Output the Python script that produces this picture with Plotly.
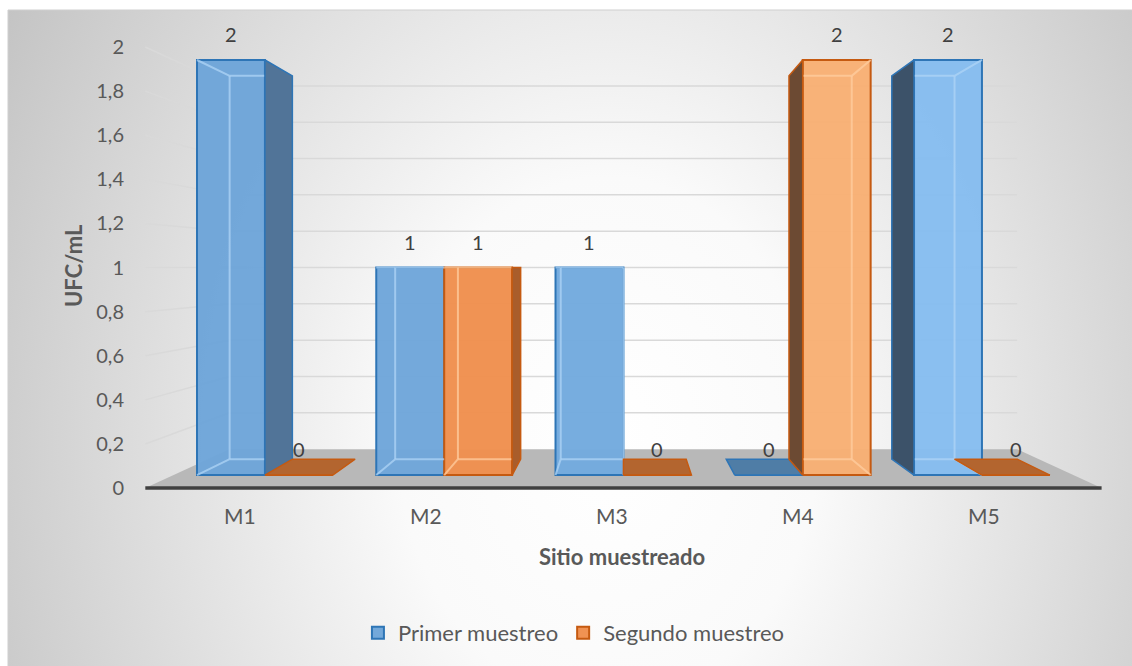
import base64
import plotly.graph_objects as go

# ---- data -------------------------------------------------------------
categories = ["M1", "M2", "M3", "M4", "M5"]
primer_muestreo = [2, 1, 1, 0, 2]
segundo_muestreo = [0, 1, 0, 2, 0]
y_ticks = [0, 0.2, 0.4, 0.6, 0.8, 1, 1.2, 1.4, 1.6, 1.8, 2]
y_tick_labels = [f"{t:g}".replace(".", ",") for t in y_ticks]

# ---- perspective model ------------------------------------------------
# logical units: category index on x, UFC/mL on y; k = depth scale factor
VP = (2.0, 1.0)        # vanishing point
K_FRONT = 1.0          # floor front edge / value-axis plane
K_BAR = 0.941          # bar front faces
K_BAR_BACK = 0.869     # bar back faces
K_WALL = 0.8235        # back wall
BAR_W = 0.379
FLOOR_C = (-0.51, 4.51)

X_RANGE = [-1.478, 4.837]
Y_RANGE = [-0.92, 2.289]
Y_TICK_RANGE = [VP[1] + (r - VP[1]) * K_BAR / K_FRONT for r in Y_RANGE]
X_LABEL_RANGE = [-1.29, 4.796]


def proj(c, v, k):
    s = k / K_BAR
    return VP[0] + (c - VP[0]) * s, VP[1] + (v - VP[1]) * s


def path(points):
    return "M " + " L ".join(f"{x:.5f},{y:.5f}" for x, y in points) + " Z"


def clip_x(p, q, lo, hi):
    (x0, y0), (x1, y1) = p, q
    if abs(x1 - x0) < 1e-12:
        return (p, q) if lo - 1e-9 <= x0 <= hi + 1e-9 else None
    t0, t1 = (lo - x0) / (x1 - x0), (hi - x0) / (x1 - x0)
    ta, tb = max(0.0, min(t0, t1)), min(1.0, max(t0, t1))
    if tb - ta < 1e-6:
        return None
    return ((x0 + (x1 - x0) * ta, y0 + (y1 - y0) * ta),
            (x0 + (x1 - x0) * tb, y0 + (y1 - y0) * tb))


series = [
    dict(name="Primer muestreo", values=primer_muestreo, offset=-BAR_W,
         line="#2e75b6",
         front=["rgba(110,165,217,0.97)", "rgba(111,166,218,0.97)", "rgba(115,170,222,0.97)",
                "rgba(124,180,232,0.97)", "rgba(134,189,240,0.97)"],
         right="#517498", left="#3c5269", top="#4f7da6",
         inner="rgba(175,212,245,0.75)"),
    dict(name="Segundo muestreo", values=segundo_muestreo, offset=0.0,
         line="#c55a11",
         front=["rgba(239,142,77,0.97)", "rgba(239,143,78,0.97)", "rgba(242,154,90,0.97)",
                "rgba(248,176,116,0.97)", "rgba(250,183,122,0.97)"],
         right="#a95d2b", left="#6c4a33", top="#b3652f",
         inner="rgba(255,205,160,0.75)"),
]

fig = go.Figure()

# ---- floor, walls and gridlines --------------------------------------
shapes = []
floor = [proj(FLOOR_C[0], 0, K_FRONT), proj(FLOOR_C[1], 0, K_FRONT),
         proj(FLOOR_C[1], 0, K_WALL), proj(FLOOR_C[0], 0, K_WALL)]
for t in y_ticks[1:]:
    a = proj(FLOOR_C[0], t, K_FRONT)
    b = proj(FLOOR_C[0], t, K_WALL)
    c = proj(FLOOR_C[1], t, K_WALL)
    for p, q in ((a, b), (b, c)):
        shapes.append(dict(type="line", xref="x", yref="y", x0=p[0], y0=p[1], x1=q[0], y1=q[1],
                           line=dict(color="#d9d9d9", width=1.5), layer="below"))
shapes.append(dict(type="path", xref="x", yref="y", path=path(floor),
                   fillcolor="#b8b8b8", line=dict(width=0), layer="below"))
fl, fr = proj(FLOOR_C[0], 0, K_FRONT), proj(FLOOR_C[1], 0, K_FRONT)
shapes.append(dict(type="line", xref="x", yref="y", x0=fl[0], y0=fl[1], x1=fr[0], y1=fr[1],
                   line=dict(color="#404040", width=3.5), layer="below"))
# chart-area border
shapes.append(dict(type="rect", xref="paper", yref="paper", x0=8 / 1132, y0=-0.01, x1=1.01,
                   y1=1 - 10 / 666, line=dict(color="#cfcfcf", width=1), layer="below"))

# ---- bar front faces --------------------------------------------------
for s in series:
    fig.add_trace(go.Bar(
        x=list(range(len(categories))), y=s["values"], base=0,
        offset=s["offset"], width=BAR_W, name=s["name"],
        marker=dict(color=s["front"], line=dict(color=s["line"], width=2)),
        hoverinfo="skip",
    ))

# ---- hidden back edges seen through the front faces --------------------
for s in series:
    xs, ys = [], []
    for i, v in enumerate(s["values"]):
        if v == 0:
            continue
        c0 = i + s["offset"]
        c1 = c0 + BAR_W
        corners = [(c0, 0), (c1, 0), (c1, v), (c0, v)]
        back = [proj(c, h, K_BAR_BACK) for c, h in corners]
        front = [proj(c, h, K_BAR) for c, h in corners]
        edges = [(back[j], back[(j + 1) % 4]) for j in range(4)] + \
                [(front[j], back[j]) for j in range(4)]
        for p, q in edges:
            seg = clip_x(p, q, c0, c1)
            if seg:
                xs += [seg[0][0], seg[1][0], None]
                ys += [seg[0][1], seg[1][1], None]
    fig.add_trace(go.Scatter(x=xs, y=ys, mode="lines", line=dict(color=s["inner"], width=2),
                             showlegend=False, hoverinfo="skip"))

# ---- side faces and top faces -----------------------------------------
for si, s in enumerate(series):
    other = series[1 - si]["values"]
    for i, v in enumerate(s["values"]):
        c0 = i + s["offset"]
        c1 = c0 + BAR_W
        faces = []
        if v < VP[1]:
            # top face seen from above (flat slab for zero values)
            faces.append(([proj(c0, v, K_BAR), proj(c1, v, K_BAR),
                           proj(c1, v, K_BAR_BACK), proj(c0, v, K_BAR_BACK)], s["top"]))
        if c1 < VP[0] - 1e-9:
            low = other[i] if si == 0 else 0
            if v > low:
                faces.append(([proj(c1, low, K_BAR), proj(c1, v, K_BAR),
                               proj(c1, v, K_BAR_BACK), proj(c1, low, K_BAR_BACK)], s["right"]))
        if c0 > VP[0] + 1e-9:
            low = other[i] if si == 1 else 0
            if v > low:
                faces.append(([proj(c0, low, K_BAR), proj(c0, v, K_BAR),
                               proj(c0, v, K_BAR_BACK), proj(c0, low, K_BAR_BACK)], s["left"]))
        for pts, col in faces:
            fig.add_trace(go.Scatter(
                x=[p[0] for p in pts] + [pts[0][0]], y=[p[1] for p in pts] + [pts[0][1]],
                mode="lines", fill="toself", fillcolor=col,
                line=dict(color=s["line"], width=1.5),
                showlegend=False, hoverinfo="skip"))

# ---- value labels ------------------------------------------------------
annotations = []
for s in series:
    for i, v in enumerate(s["values"]):
        annotations.append(dict(x=i + s["offset"] + BAR_W / 2, y=v, xref="x", yref="y",
                                text=f"{v:g}", showarrow=False, yshift=26,
                                xanchor="center", yanchor="middle",
                                font=dict(size=20, color="#404040")))

annotations.append(dict(x=622 / 1132, y=(666 - 556) / 666, xref="paper", yref="paper",
                        xanchor="center", yanchor="middle",
                        text="<b>Sitio muestreado</b>", showarrow=False,
                        font=dict(size=22, color="#595959")))
annotations.append(dict(x=73 / 1132, y=(666 - 266) / 666, xref="paper", yref="paper",
                        xanchor="center", yanchor="middle",
                        text="<b>UFC/mL</b>", showarrow=False, textangle=-90,
                        font=dict(size=22, color="#595959")))

# anchor trace for the label axes
fig.add_trace(go.Scatter(x=[0], y=[0], xaxis="x2", yaxis="y2", mode="markers",
                         marker=dict(opacity=0), showlegend=False, hoverinfo="skip"))

# ---- background ------------------------------------------------------
svg = ('<svg xmlns="http://www.w3.org/2000/svg" width="1124" height="656" '
       'viewBox="0 0 1124 656" preserveAspectRatio="none"><defs>'
       '<radialGradient id="g" gradientUnits="userSpaceOnUse" cx="600" cy="430" r="700" '
       'gradientTransform="translate(600 430) scale(1 1.25) translate(-600 -430)">'
       '<stop offset="0" stop-color="#ffffff"/><stop offset="0.3" stop-color="#fafafa"/>'
       '<stop offset="1" stop-color="#c3c3c3"/></radialGradient></defs>'
       '<rect width="1124" height="656" fill="url(#g)"/></svg>')
bg_uri = "data:image/svg+xml;base64," + base64.b64encode(svg.encode()).decode()

fig.update_layout(
    width=1132, height=666, autosize=False,
    margin=dict(l=0, r=0, t=0, b=0),
    paper_bgcolor="white", plot_bgcolor="rgba(0,0,0,0)",
    font=dict(family="Lato, 'Open Sans', sans-serif", color="#595959"),
    barmode="overlay",
    showlegend=True,
    legend=dict(orientation="h", x=0.507, xanchor="center", y=(666 - 633) / 666, yanchor="middle",
                bgcolor="rgba(0,0,0,0)", font=dict(size=22, color="#595959"), itemwidth=30,
                traceorder="normal"),
    xaxis=dict(range=X_RANGE, visible=False, fixedrange=True),
    yaxis=dict(range=Y_RANGE, visible=False, fixedrange=True),
    xaxis2=dict(range=X_LABEL_RANGE, overlaying="x", anchor="free", position=(666 - 502) / 666,
                side="bottom", tickvals=list(range(len(categories))), ticktext=categories,
                showgrid=False, zeroline=False, showline=False, ticks="",
                tickfont=dict(size=21, color="#595959")),
    yaxis2=dict(range=Y_TICK_RANGE, overlaying="y", anchor="free", position=145 / 1132,
                side="left", tickvals=y_ticks, ticktext=y_tick_labels,
                showgrid=False, zeroline=False, showline=False, ticks="",
                ticklabelstandoff=21, tickfont=dict(size=20, color="#595959")),
    shapes=shapes,
    annotations=annotations,
    images=[dict(source=bg_uri, xref="paper", yref="paper", x=8 / 1132, y=1 - 10 / 666,
                 sizex=1 - 8 / 1132, sizey=1 - 10 / 666, xanchor="left", yanchor="top",
                 sizing="stretch", layer="below")],
)

fig.write_html("out.html")
